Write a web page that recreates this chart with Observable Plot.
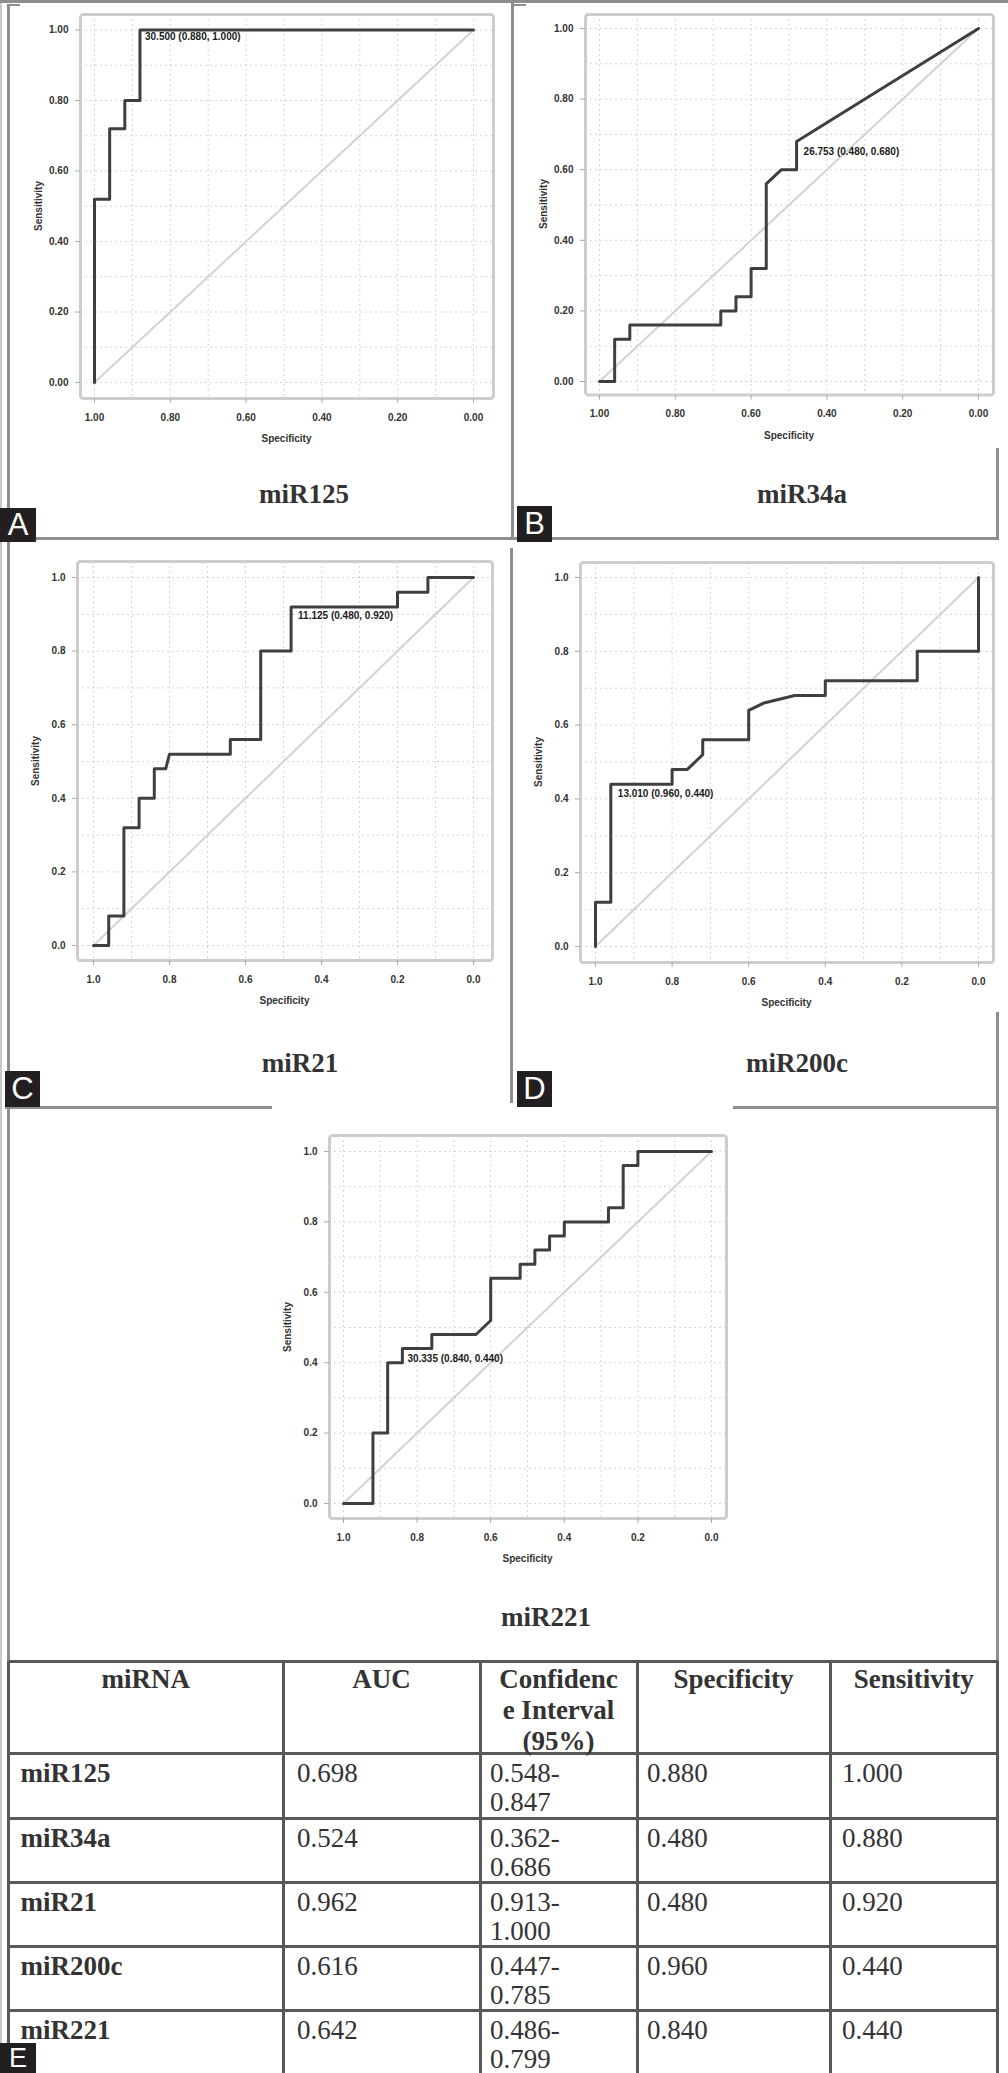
<!DOCTYPE html>
<html><head><meta charset="utf-8">
<script src="https://cdn.jsdelivr.net/npm/d3@7"></script>
<script src="https://cdn.jsdelivr.net/npm/@observablehq/plot@0.6"></script>
<style>
body{margin:0;background:#fff;}
#page{position:relative;width:1008px;height:2073px;overflow:hidden;background:#fff;}
.ln{position:absolute;background:#8e8e8e;}
.tl{position:absolute;background:#585858;}
.box{position:absolute;background:#231f20;color:#fff;font:31px "Liberation Sans",Arial,sans-serif;text-align:center;z-index:5;}
.ttl{position:absolute;font:bold 27px "Liberation Serif","Times New Roman",serif;color:#333;transform:translate(-50%,-50%);white-space:nowrap;}
.axt{position:absolute;font:bold 10px "Liberation Sans",Arial,sans-serif;color:#333;white-space:nowrap;}
.plot{position:absolute;}
.cell{position:absolute;font:27px "Liberation Serif","Times New Roman",serif;color:#333;line-height:29px;white-space:nowrap;}
</style></head><body><div id="page"></div>
<script>
// ---------- data ----------
const panelNames = ["miR125", "miR34a", "miR21", "miR200c", "miR221"];
const panelLetters = ["A", "B", "C", "D", "E"];

const specA = [1, 1, 0.96, 0.96, 0.92, 0.92, 0.88, 0.88, 0];
const sensA = [0, 0.52, 0.52, 0.72, 0.72, 0.80, 0.80, 1, 1];

const specB = [1, 0.96, 0.96, 0.92, 0.92, 0.68, 0.68, 0.64, 0.64, 0.60, 0.60, 0.56, 0.56, 0.52, 0.48, 0.48, 0];
const sensB = [0, 0, 0.12, 0.12, 0.16, 0.16, 0.20, 0.20, 0.24, 0.24, 0.32, 0.32, 0.56, 0.60, 0.60, 0.68, 1];

const specC = [1, 0.96, 0.96, 0.92, 0.92, 0.88, 0.88, 0.84, 0.84, 0.81, 0.80, 0.64, 0.64, 0.56, 0.56, 0.48, 0.48, 0.20, 0.20, 0.12, 0.12, 0];
const sensC = [0, 0, 0.08, 0.08, 0.32, 0.32, 0.40, 0.40, 0.48, 0.48, 0.52, 0.52, 0.56, 0.56, 0.80, 0.80, 0.92, 0.92, 0.96, 0.96, 1, 1];

const specD = [1, 1, 0.96, 0.96, 0.80, 0.80, 0.76, 0.72, 0.72, 0.60, 0.60, 0.56, 0.48, 0.40, 0.40, 0.16, 0.16, 0, 0];
const sensD = [0, 0.12, 0.12, 0.44, 0.44, 0.48, 0.48, 0.52, 0.56, 0.56, 0.64, 0.66, 0.68, 0.68, 0.72, 0.72, 0.80, 0.80, 1];

const specE = [1, 0.92, 0.92, 0.88, 0.88, 0.84, 0.84, 0.76, 0.76, 0.64, 0.60, 0.60, 0.52, 0.52, 0.48, 0.48, 0.44, 0.44, 0.40, 0.40, 0.28, 0.28, 0.24, 0.24, 0.20, 0.20, 0];
const sensE = [0, 0, 0.20, 0.20, 0.40, 0.40, 0.44, 0.44, 0.48, 0.48, 0.52, 0.64, 0.64, 0.68, 0.68, 0.72, 0.72, 0.76, 0.76, 0.80, 0.80, 0.84, 0.84, 0.96, 0.96, 1, 1];

const cutThreshold = ["30.500", "26.753", "11.125", "13.010", "30.335"];
const cutSpec = [0.880, 0.480, 0.480, 0.960, 0.840];
const cutSens = [1.000, 0.680, 0.920, 0.440, 0.440];

const diagSpec = [1, 0];
const diagSens = [0, 1];
const axisTicks = [0, 0.2, 0.4, 0.6, 0.8, 1.0];
const gridTicks = [0, 0.1, 0.2, 0.3, 0.4, 0.5, 0.6, 0.7, 0.8, 0.9, 1.0];
const tickDigits = [2, 2, 1, 1, 1];

// table
const tblHeader = [["miRNA"], ["AUC"], ["Confidenc", "e Interval", "(95%)"], ["Specificity"], ["Sensitivity"]];
const tblMirna = ["miR125", "miR34a", "miR21", "miR200c", "miR221"];
const tblAuc = ["0.698", "0.524", "0.962", "0.616", "0.642"];
const tblCiLow = ["0.548-", "0.362-", "0.913-", "0.447-", "0.486-"];
const tblCiHigh = ["0.847", "0.686", "1.000", "0.785", "0.799"];
const tblSpec = ["0.880", "0.480", "0.480", "0.960", "0.840"];
const tblSens = ["1.000", "0.880", "0.920", "0.440", "0.440"];

// ---------- layout ----------
const specs = [specA, specB, specC, specD, specE];
const senss = [sensA, sensB, sensC, sensD, sensE];
const layout = [
  {fx0: 80, fx1: 493, fy0: 14, fy1: 398, tx1: 94, tx0: 473, ty1: 29.5, ty0: 382, dx: 5, dy: 7, title: [304, 494], box: [0, 508, 36, 34, 31]},
  {fx0: 585, fx1: 993, fy0: 14, fy1: 394.5, tx1: 599, tx0: 978, ty1: 28, ty0: 381, dx: 7, dy: 10, title: [802, 494], box: [517, 506, 35, 36, 31]},
  {fx0: 77, fx1: 492, fy0: 561, fy1: 960, tx1: 93, tx0: 473, ty1: 577, ty0: 945, dx: 7, dy: 9, title: [300, 1063], box: [5, 1071, 35, 36, 31]},
  {fx0: 580, fx1: 993, fy0: 562, fy1: 962, tx1: 595, tx0: 978, ty1: 577, ty0: 946, dx: 7, dy: 10, title: [797, 1063], box: [517, 1071, 35, 36, 31]},
  {fx0: 329, fx1: 726, fy0: 1135, fy1: 1518, tx1: 343, tx0: 711, ty1: 1151, ty0: 1503, dx: 5, dy: 10, title: [546, 1617], box: [0, 2043, 36, 30, 27]}
];

const page = document.getElementById("page");
function el(cls, css, html) {
  const d = document.createElement("div");
  d.className = cls;
  Object.assign(d.style, css);
  if (html !== undefined) d.innerHTML = html;
  page.appendChild(d);
  return d;
}
function hline(x0, x1, y, w, cls) { el(cls || "ln", {left: x0 + "px", top: (y - w / 2) + "px", width: (x1 - x0) + "px", height: w + "px"}); }
function vline(x, y0, y1, w, cls) { el(cls || "ln", {left: (x - w / 2) + "px", top: y0 + "px", width: w + "px", height: (y1 - y0) + "px"}); }

// panel frame lines
el("ln", {left: "0px", top: "0px", width: "2px", height: "2073px", background: "#c8c8c8"});
vline(8.5, 4, 2073, 3);
hline(0, 1008, 1.5, 2.5);
hline(10, 20, 5, 2);
hline(512, 526, 5, 2);
vline(512.5, 0, 539, 3);
hline(0, 999, 538.5, 3);
vline(997.5, 448, 540, 3);
vline(511.5, 548, 1103, 3);
hline(5, 272, 1107.5, 3);
hline(733, 999, 1107.5, 3);
vline(997.5, 1012, 2073, 3);

// ---------- ROC panels ----------
const mL = 60, mT = 10, mR = 10, mB = 30;
layout.forEach((L, i) => {
  const pts = specs[i].map((s, j) => ({spec: s, sens: senss[i][j]}));
  const diag = diagSpec.map((s, j) => ({spec: s, sens: diagSens[j]}));
  const cut = [{spec: cutSpec[i], sens: cutSens[i],
    label: `${cutThreshold[i]} (${cutSpec[i].toFixed(3)}, ${cutSens[i].toFixed(3)})`}];
  const W = L.fx1 - L.fx0 + mL + mR, H = L.fy1 - L.fy0 + mT + mB;
  const fmt = d3.format("." + tickDigits[i] + "f");
  const chart = Plot.plot({
    width: W, height: H,
    marginLeft: mL, marginTop: mT, marginRight: mR, marginBottom: mB,
    style: {background: "transparent", fontFamily: "Liberation Sans, Arial, sans-serif", fontSize: "10px", fontWeight: "bold", color: "#333", overflow: "visible"},
    x: {domain: [1, 0], insetLeft: L.tx1 - L.fx0, insetRight: L.fx1 - L.tx0, label: null},
    y: {domain: [0, 1], insetTop: L.ty1 - L.fy0, insetBottom: L.fy1 - L.ty0, label: null},
    marks: [
      Plot.gridX(gridTicks, {stroke: "#b5b5b5", strokeOpacity: 0.55, strokeDasharray: "2,3"}),
      Plot.gridY(gridTicks, {stroke: "#b5b5b5", strokeOpacity: 0.55, strokeDasharray: "2,3"}),
      Plot.frame({stroke: "#cdcdcd", strokeWidth: 3, rx: 3}),
      Plot.axisX(axisTicks, {tickFormat: fmt, tickSize: 5, tickPadding: 10, stroke: "#aaa", fill: "#333", label: null}),
      Plot.axisY(axisTicks, {tickFormat: fmt, tickSize: 5, tickPadding: 7, stroke: "#aaa", fill: "#333", label: null}),
      Plot.line(diag, {x: "spec", y: "sens", stroke: "#d2d2d2", strokeWidth: 2}),
      Plot.line(pts, {x: "spec", y: "sens", stroke: "#3f3f3f", strokeWidth: 3}),
      Plot.text(cut, {x: "spec", y: "sens", text: "label", textAnchor: "start", dx: L.dx, dy: L.dy, fontSize: 10, fontWeight: "bold", fill: "#1a1a1a"})
    ]
  });
  const wrap = el("plot", {left: (L.fx0 - mL) + "px", top: (L.fy0 - mT) + "px"});
  wrap.appendChild(chart);

  const cx = (L.fx0 + L.fx1) / 2, cy = (L.fy0 + L.fy1) / 2;
  el("axt", {left: cx + "px", top: (L.fy1 + 40) + "px", transform: "translate(-50%,-50%)"}, "Specificity");
  el("axt", {left: (L.fx0 - 42) + "px", top: cy + "px", transform: "translate(-50%,-50%) rotate(-90deg)"}, "Sensitivity");
  el("ttl", {left: L.title[0] + "px", top: L.title[1] + "px"}, panelNames[i]);
  el("box", {left: L.box[0] + "px", top: L.box[1] + "px", width: L.box[2] + "px", height: L.box[3] + "px", lineHeight: L.box[3] + "px", fontSize: L.box[4] + "px"}, panelLetters[i]);
});

// ---------- table ----------
const colX = [8.5, 283, 480, 637, 830, 997.5];
const rowY = [1661, 1753, 1818, 1882, 1946, 2010, 2073];
const colPad = [12, 14, 10, 10, 12];
rowY.slice(0, 6).forEach(y => hline(colX[0], colX[5], y, 3, "tl"));
colX.forEach(x => vline(x, rowY[0], rowY[6], 3, "tl"));

tblHeader.forEach((lines, c) => {
  el("cell", {left: colX[c] + "px", top: (rowY[0] + 3) + "px", width: (colX[c + 1] - colX[c]) + "px",
    textAlign: "center", fontWeight: "bold", lineHeight: "31px"}, lines.join("<br>"));
});
tblMirna.forEach((m, r) => {
  const top = rowY[r + 1] + 5.5;
  const vals = [m, tblAuc[r], tblCiLow[r] + "<br>" + tblCiHigh[r], tblSpec[r], tblSens[r]];
  vals.forEach((v, c) => {
    el("cell", {left: (colX[c] + colPad[c]) + "px", top: top + "px", fontWeight: c === 0 ? "bold" : "normal"}, v);
  });
});
</script>
</body></html>
